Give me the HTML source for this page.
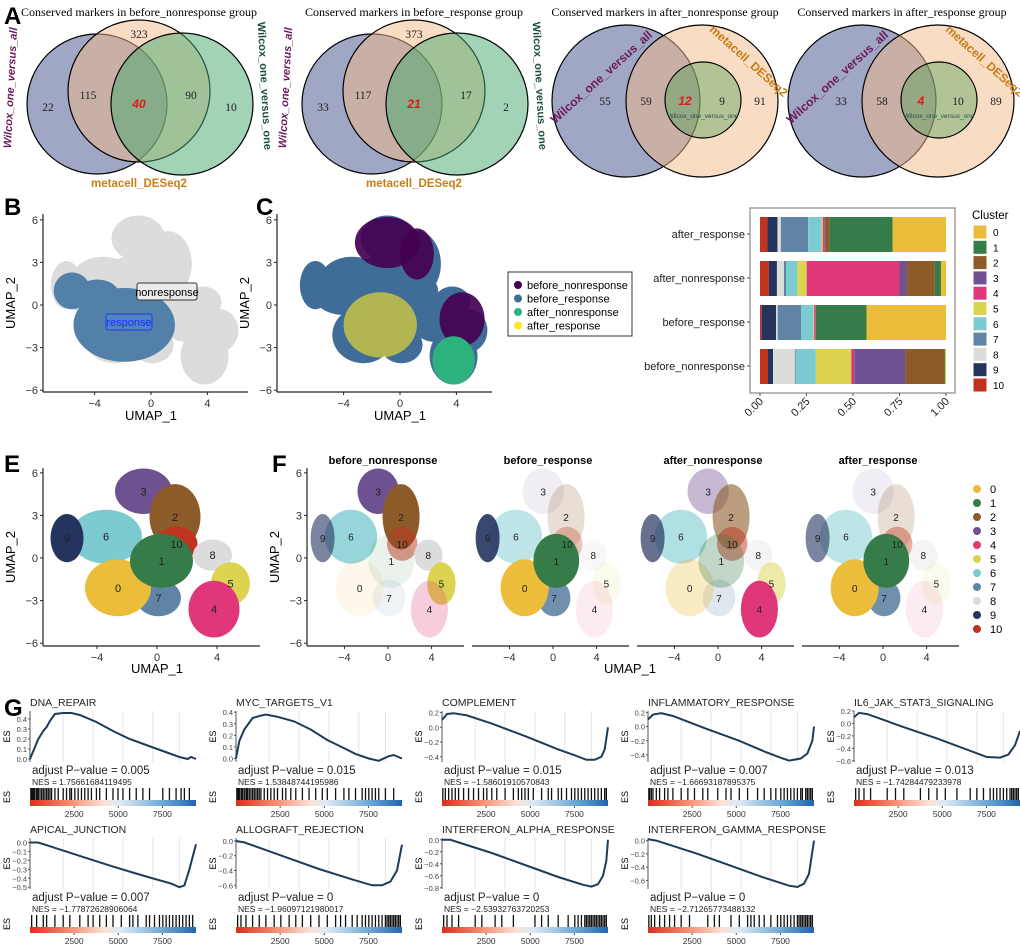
<!DOCTYPE html>
<html><head><meta charset="utf-8">
<style>
html,body{margin:0;padding:0;background:#fff;}
svg{display:block;font-family:"Liberation Sans",sans-serif;}
.serif{font-family:"Liberation Serif",serif;}
</style></head>
<body>
<svg id="fig" width="1020" height="946" viewBox="0 0 1020 946" xmlns="http://www.w3.org/2000/svg">
<defs>
<linearGradient id="rankGrad" x1="0" x2="1" y1="0" y2="0">
<stop offset="0" stop-color="#d7301f"/><stop offset="0.22" stop-color="#f4866a"/><stop offset="0.45" stop-color="#fbe3d6"/><stop offset="0.55" stop-color="#dbe9f4"/><stop offset="0.8" stop-color="#6fa8d4"/><stop offset="1" stop-color="#2166ac"/>
</linearGradient>
</defs>
</svg>
<script>
// ---------- Panel A data ----------
const vennTitles=["Conserved markers in before_nonresponse group","Conserved markers in before_response group","Conserved markers in after_nonresponse group","Conserved markers in after_response group"];
const venn1Counts=[22,115,40,90,10,323];
const venn2Counts=[33,117,21,17,2,373];
const venn3Counts=[55,59,12,9,91];
const venn4Counts=[33,58,4,10,89];
// ---------- Panel D data ----------
const barGroups=["after_response","after_nonresponse","before_response","before_nonresponse"];
const clusterNames=["0","1","2","3","4","5","6","7","8","9","10"];
const propAfterResponse=[0.287,0.341,0.02,0.004,0.011,0.007,0.072,0.147,0.018,0.054,0.04];
const propAfterNonresponse=[0.027,0.034,0.149,0.04,0.499,0.05,0.061,0.011,0.038,0.043,0.048];
const propBeforeResponse=[0.427,0.273,0.002,0.0,0.007,0.004,0.065,0.127,0.009,0.077,0.009];
const propBeforeNonresponse=[0.004,0.005,0.208,0.276,0.016,0.19,0.108,0.005,0.117,0.027,0.043];
const barTicks=[0,0.25,0.5,0.75,1.0];
const barTickLabels=["0.00","0.25","0.50","0.75","1.00"];
// ---------- UMAP cluster data (UMAP units) ----------
const clusterX=[-2.6,0.3,1.2,-0.9,3.8,4.9,-3.4,0.1,3.7,-6.0,1.3];
const clusterY=[-2.1,-0.2,2.9,4.7,-3.6,-1.8,1.5,-2.8,0.2,1.4,1.0];
const clusterRX=[2.2,2.1,1.7,1.9,1.7,1.3,2.4,1.5,1.3,1.1,1.4];
const clusterRY=[2.0,1.9,2.3,1.6,2.0,1.5,1.9,1.3,1.1,1.7,1.2];
const fillerX=[-1.0,-4.0,2.5];
const fillerY=[0.5,1.0,-1.0];
const fillerRX=[3.3,2.3,1.8];
const fillerRY=[3.0,1.7,1.6];
const responseX=[-1.9,-5.6,-3.8];
const responseY=[-1.4,1.0,0.6];
const responseRX=[3.6,1.3,1.6];
const responseRY=[2.6,1.3,1.2];
const nonrespPurpleX=[-0.9,1.2,4.4];
const nonrespPurpleY=[4.4,3.6,-1.0];
const nonrespPurpleRX=[2.3,1.2,1.6];
const nonrespPurpleRY=[1.8,1.8,1.9];
const afterNonX=[3.8]; const afterNonY=[-3.9]; const afterNonRX=[1.5]; const afterNonRY=[1.7];
const afterRespX=[-1.4]; const afterRespY=[-1.4]; const afterRespRX=[2.6]; const afterRespRY=[2.3];
const facetNames=["before_nonresponse","before_response","after_nonresponse","after_response"];
const densBeforeNon=[0.1,0.1,1,1,0.25,1,0.8,0.1,1,0.6,0.5];
const densBeforeResp=[1,1,0.2,0.1,0.1,0.1,0.5,0.9,0.2,0.9,0.3];
const densAfterNon=[0.3,0.3,0.6,0.4,1,0.5,0.6,0.2,0.3,0.7,0.5];
const densAfterResp=[1,1,0.2,0.1,0.1,0.1,0.5,0.9,0.3,0.6,0.4];
const umapXTicks=[-4,0,4];
const umapYTicks=[6,3,0,-3,-6];
// ---------- Panel G data ----------
const gseaNames=["DNA_REPAIR","MYC_TARGETS_V1","COMPLEMENT","INFLAMMATORY_RESPONSE","IL6_JAK_STAT3_SIGNALING","APICAL_JUNCTION","ALLOGRAFT_REJECTION","INTERFERON_ALPHA_RESPONSE","INTERFERON_GAMMA_RESPONSE"];
const gseaP=["0.005","0.015","0.015","0.007","0.013","0.007","0","0","0"];
const gseaNES=["1.75661684119495","1.53848744195986","-1.58601910570843","-1.66693187895375","-1.74284479233978","-1.77872628906064","-1.96097121980017","-2.53932763720253","-2.71265773488132"];
const gseaYMin=[-0.03,-0.03,-0.47,-0.5,-0.62,-0.52,-0.65,-0.82,-0.73];
const gseaYMax=[0.48,0.41,0.22,0.22,0.2,0.05,0.04,0.03,0.04];
const gseaTicks=[[0,0.1,0.2,0.3,0.4],[0,0.1,0.2,0.3,0.4],[0.2,0,-0.2,-0.4],[0.2,0,-0.2,-0.4],[0.2,0,-0.2,-0.4,-0.6],[0,-0.1,-0.2,-0.3,-0.4,-0.5],[0,-0.2,-0.4,-0.6],[0,-0.2,-0.4,-0.6,-0.8],[0,-0.2,-0.4,-0.6]];
const curveDNA=[[0,0],[0.02,0.08],[0.05,0.2],[0.08,0.28],[0.1,0.32],[0.12,0.38],[0.15,0.45],[0.2,0.46],[0.25,0.46],[0.3,0.44],[0.4,0.37],[0.5,0.28],[0.6,0.2],[0.7,0.14],[0.8,0.08],[0.9,0.02],[0.95,0.0],[0.97,0.02],[1,0]];
const curveMYC=[[0,0],[0.02,0.15],[0.05,0.25],[0.1,0.35],[0.15,0.37],[0.18,0.38],[0.25,0.36],[0.35,0.32],[0.45,0.25],[0.55,0.16],[0.65,0.09],[0.72,0.04],[0.8,0.0],[0.86,-0.02],[0.92,0.02],[0.95,0.03],[1,0]];
const curveCOMP=[[0,0.1],[0.03,0.18],[0.07,0.19],[0.15,0.16],[0.3,0.05],[0.5,-0.12],[0.7,-0.3],[0.8,-0.38],[0.87,-0.44],[0.92,-0.44],[0.96,-0.4],[0.98,-0.3],[1,0.0]];
const curveINF=[[0,0.1],[0.03,0.17],[0.08,0.19],[0.15,0.15],[0.35,-0.03],[0.55,-0.2],[0.7,-0.35],[0.8,-0.44],[0.85,-0.48],[0.92,-0.45],[0.96,-0.38],[0.99,-0.2],[1,0]];
const curveIL6=[[0,0.1],[0.03,0.17],[0.08,0.15],[0.3,-0.06],[0.5,-0.24],[0.7,-0.44],[0.8,-0.54],[0.88,-0.55],[0.93,-0.5],[0.97,-0.35],[1,-0.12]];
const curveAPI=[[0,0],[0.05,0.0],[0.1,-0.03],[0.3,-0.15],[0.5,-0.27],[0.7,-0.38],[0.85,-0.46],[0.9,-0.5],[0.93,-0.48],[0.96,-0.3],[1,-0.02]];
const curveALLO=[[0,0],[0.05,-0.02],[0.3,-0.22],[0.5,-0.38],[0.7,-0.52],[0.82,-0.6],[0.88,-0.6],[0.93,-0.55],[0.97,-0.4],[1,-0.05]];
const curveIFNA=[[0,0.0],[0.05,0.0],[0.3,-0.22],[0.5,-0.42],[0.7,-0.62],[0.85,-0.75],[0.9,-0.78],[0.94,-0.74],[0.97,-0.6],[0.99,-0.35],[1,0]];
const curveIFNG=[[0,0.02],[0.05,0.0],[0.3,-0.2],[0.5,-0.38],[0.7,-0.56],[0.85,-0.68],[0.9,-0.7],[0.94,-0.65],[0.97,-0.5],[1,0]];
const hitsDNA=[0.005,0.01,0.015,0.02,0.025,0.03,0.04,0.045,0.05,0.06,0.07,0.08,0.09,0.1,0.11,0.12,0.13,0.15,0.17,0.2,0.22,0.24,0.25,0.27,0.29,0.31,0.33,0.35,0.37,0.4,0.42,0.46,0.5,0.53,0.56,0.6,0.64,0.68,0.72,0.8,0.84,0.88,0.91,0.93,0.96];
const hitsMYC=[0.005,0.01,0.015,0.02,0.03,0.035,0.04,0.05,0.06,0.065,0.07,0.08,0.09,0.1,0.11,0.12,0.13,0.14,0.15,0.17,0.19,0.21,0.23,0.25,0.28,0.3,0.33,0.36,0.4,0.44,0.48,0.52,0.55,0.6,0.65,0.68,0.72,0.76,0.78,0.8,0.82,0.84,0.86,0.9,0.95];
const hitsCOMP=[0.005,0.02,0.04,0.06,0.08,0.1,0.13,0.16,0.19,0.22,0.25,0.27,0.3,0.33,0.38,0.43,0.46,0.48,0.5,0.52,0.55,0.6,0.64,0.66,0.7,0.72,0.75,0.78,0.8,0.82,0.84,0.86,0.88,0.9,0.92,0.94,0.96,0.98,0.99];
const hitsINF=[0.005,0.01,0.02,0.03,0.05,0.07,0.1,0.12,0.15,0.2,0.24,0.28,0.33,0.36,0.42,0.47,0.5,0.55,0.6,0.66,0.7,0.74,0.77,0.8,0.82,0.84,0.86,0.88,0.9,0.92,0.93,0.95,0.96,0.97,0.98,0.99];
const hitsIL6=[0.01,0.03,0.06,0.1,0.2,0.25,0.3,0.4,0.45,0.5,0.55,0.62,0.7,0.74,0.78,0.82,0.84,0.86,0.88,0.9,0.92,0.94,0.95,0.96,0.97,0.98,0.99];
const hitsAPI=[0.01,0.04,0.08,0.1,0.15,0.2,0.24,0.3,0.35,0.38,0.42,0.46,0.5,0.55,0.6,0.62,0.65,0.7,0.72,0.75,0.78,0.8,0.82,0.84,0.86,0.88,0.9,0.92,0.94,0.96,0.98];
const hitsALLO=[0.01,0.03,0.06,0.1,0.14,0.18,0.23,0.27,0.32,0.36,0.4,0.45,0.5,0.55,0.6,0.63,0.66,0.7,0.73,0.76,0.78,0.8,0.82,0.84,0.86,0.88,0.9,0.91,0.92,0.93,0.94,0.95,0.96,0.97,0.98,0.99];
const hitsIFNA=[0.01,0.03,0.06,0.1,0.2,0.24,0.32,0.36,0.43,0.56,0.6,0.64,0.7,0.76,0.8,0.82,0.84,0.86,0.87,0.88,0.89,0.9,0.91,0.92,0.93,0.94,0.95,0.96,0.97,0.98,0.99];
const hitsIFNG=[0.005,0.02,0.04,0.07,0.1,0.13,0.16,0.2,0.25,0.36,0.4,0.43,0.5,0.55,0.6,0.62,0.64,0.67,0.7,0.74,0.78,0.8,0.82,0.84,0.86,0.88,0.9,0.91,0.92,0.93,0.94,0.95,0.96,0.97,0.98,0.99];
const gseaXTicks=[2500,5000,7500];
const gseaMaxRank=9400;

// ---------- helpers ----------
const NS="http://www.w3.org/2000/svg";
const svg=document.getElementById('fig');
const clusterColors=["#ebbd3a","#367c49","#8d5b2a","#6d5190","#e0367a","#dcd450","#7ccbd0","#5f84a5","#dcdcdc","#25345f","#c1331f"];
function mk(tag,attrs,parent){const e=document.createElementNS(NS,tag);for(const k in attrs)e.setAttribute(k,attrs[k]);(parent||svg).appendChild(e);return e;}
function txt(x,y,s,attrs,parent){const t=mk('text',Object.assign({x:x,y:y},attrs||{}),parent);t.textContent=s;return t;}
function grp(parent){return mk('g',{},parent);}

[["A",4,24],["B",4,215],["C",256,215],["D",752,228],["E",4,472],["F",272,472],["G",4,716]].forEach(p=>{
  const t=txt(p[1],p[2],p[0],{'font-size':24,'font-weight':'bold'});
  
  
});

// ---------- Panel A ----------
function circle(g,cx,cy,r,fill){return mk('ellipse',{cx:cx,cy:cy,rx:r,ry:r,fill:fill,'fill-opacity':0.5,stroke:'#000','stroke-width':1.2},g);}
function numText(g,x,y,v,red){return txt(x,y,String(v),{'text-anchor':'middle','font-size':red?12:11.5,class:red?'':'serif',fill:red?'#e8141c':'#222','font-weight':red?'bold':'normal','font-style':red?'italic':'normal'},g);}
function venn3(off,counts,title,idx){
  const g=grp();
  const t=txt(139+off,16,title,{'text-anchor':'middle','font-size':12,class:'serif'},g);
  
  const a=circle(g,97+off,104,70,'#414f89');
  const b=circle(g,139+off,91,71,'#f1b987');
  const c=circle(g,182+off,104,71,'#45a76d');
  const pos=[[48,111],[88,99],[139,108],[191,99],[231,111],[139,38]];
  counts.forEach((v,i)=>{const n=numText(g,pos[i][0]+off,pos[i][1],v,i===2);});
  const l1=txt(0,0,'Wilcox_one_versus_all',{'font-size':11,'font-weight':'bold','font-style':'italic',fill:'#6b1b5c','text-anchor':'middle',transform:`translate(${14+off},88) rotate(-87)`},g);
  
  const l2=txt(0,0,'Wilcox_one_versus_one',{'font-size':11,'font-weight':'bold',fill:'#1f4f46','text-anchor':'middle',transform:`translate(${261+off},86) rotate(87)`},g);
  
  const l3=txt(139+off,187,'metacell_DESeq2',{'font-size':11.5,'font-weight':'bold',fill:'#c87e16','text-anchor':'middle'},g);
  
}
function venn2(bx,ox,counts,title,idx,tx){
  const g=grp();
  const t=txt(tx,16,title,{'text-anchor':'middle','font-size':12,class:'serif'},g);
  
  const a=mk('ellipse',{cx:bx,cy:101,rx:74,ry:76,fill:'#414f89','fill-opacity':0.5,stroke:'#000','stroke-width':1.2},g);
  const b=mk('ellipse',{cx:ox,cy:101,rx:76,ry:76,fill:'#f1b987','fill-opacity':0.5,stroke:'#000','stroke-width':1.2},g);
  const c=mk('ellipse',{cx:ox+1,cy:100,rx:38,ry:38,fill:'#3f9a4a','fill-opacity':0.38,stroke:'#000','stroke-width':1.2},g);
  const xs=[bx-21,bx+20,ox-17,ox+20,ox+58];
  counts.forEach((v,i)=>{const n=numText(g,xs[i],105,v,i===2);});
  const s=txt(ox+1,118,'Wilcox_one_versus_one',{'font-size':6.5,fill:'#1f4f46','text-anchor':'middle'},g);
  const l1=txt(0,0,'Wilcox_one_versus_all',{'font-size':12,'font-weight':'bold',fill:'#6b1b5c','text-anchor':'middle',transform:`translate(${bx-22},80) rotate(-42)`},g);
  
  const l3=txt(0,0,'metacell_DESeq2',{'font-size':12,'font-weight':'bold',fill:'#c87e16','text-anchor':'middle',transform:`translate(${ox+44},64) rotate(42)`},g);
  
}
venn3(0,venn1Counts,vennTitles[0],0);
venn3(275,venn2Counts,vennTitles[1],1);
venn2(626,702,venn3Counts,vennTitles[2],2,665);
venn2(862,938,venn4Counts,vennTitles[3],3,902);

// ---------- UMAP helpers ----------
function umapAxes(g,x0,y0,sx,sy,xl,xr,yt,yb,showY,showYTitle){
  const xa=mk('line',{x1:xl,x2:xr,y1:yb,y2:yb,stroke:'#222','stroke-width':1.2},g);
  umapXTicks.forEach(v=>{const px=x0+v*sx;mk('line',{x1:px,x2:px,y1:yb,y2:yb+3,stroke:'#222'},g);
    const t=txt(px,yb+15,v<0?'\u2212'+Math.abs(v):String(v),{'text-anchor':'middle','font-size':11,fill:'#333'},g);});
  if(showY){
    const ya=mk('line',{x1:xl,x2:xl,y1:yt,y2:yb,stroke:'#222','stroke-width':1.2},g);
    umapYTicks.forEach(v=>{const py=y0-v*sy;mk('line',{x1:xl-3,x2:xl,y1:py,y2:py,stroke:'#222'},g);
      const t=txt(xl-5,py+4,v<0?'\u2212'+Math.abs(v):String(v),{'text-anchor':'end','font-size':11,fill:'#333'},g);});
  }
  if(showYTitle){const t=txt(0,0,'UMAP_2',{'font-size':13,'text-anchor':'middle',transform:`translate(${xl-28},${(yt+yb)/2}) rotate(-90)`},g);}
}
function ell(g,x0,y0,sx,sy,cx,cy,rx,ry,fill,op){return mk('ellipse',{cx:x0+cx*sx,cy:y0-cy*sy,rx:rx*sx,ry:ry*sy,fill:fill,'fill-opacity':op},g);}
const drawOrder=[6,9,3,2,10,8,7,0,1,5,4];

// Panel B
(function(){
  const g=grp();
  const x0=151,y0=305,sx=14.1,sy=14.2;
  fillerX.forEach((v,i)=>{const e=ell(g,x0,y0,sx,sy,v,fillerY[i],fillerRX[i],fillerRY[i],'#dcdcdc',1);});
  drawOrder.forEach(i=>{const e=ell(g,x0,y0,sx,sy,clusterX[i],clusterY[i],clusterRX[i],clusterRY[i],'#dcdcdc',1);});
  responseX.forEach((v,i)=>{const e=ell(g,x0,y0,sx,sy,v,responseY[i],responseRX[i],responseRY[i],'#5380a8',1);});
  umapAxes(g,x0,y0,sx,sy,43,248,214,392,true,true);
  const r1=mk('rect',{x:137,y:283,width:60,height:17,rx:2,fill:'#ebebeb',stroke:'#333'},g);
  const t1=txt(167,296,'nonresponse',{'text-anchor':'middle','font-size':11},g);
  const r2=mk('rect',{x:106,y:314,width:46,height:16,rx:2,fill:'#4f84c0',stroke:'#1d3fe0'},g);
  const t2=txt(129,326,'response',{'text-anchor':'middle','font-size':11,fill:'#1a2fff'},g);
  const xt=txt(151,420,'UMAP_1',{'text-anchor':'middle','font-size':13},g);
})();

// Panel C
(function(){
  const g=grp();
  const x0=400,y0=305,sx=14.1,sy=14.2;
  fillerX.forEach((v,i)=>{const e=ell(g,x0,y0,sx,sy,v,fillerY[i],fillerRX[i],fillerRY[i],'#3f6d98',1);});
  drawOrder.forEach(i=>{const e=ell(g,x0,y0,sx,sy,clusterX[i],clusterY[i],clusterRX[i],clusterRY[i],'#3f6d98',1);});
  nonrespPurpleX.forEach((v,i)=>{const e=ell(g,x0,y0,sx,sy,v,nonrespPurpleY[i],nonrespPurpleRX[i],nonrespPurpleRY[i],'#440154',0.92);});
  afterNonX.forEach((v,i)=>{const e=ell(g,x0,y0,sx,sy,v,afterNonY[i],afterNonRX[i],afterNonRY[i],'#2db27d',1);});
  afterRespX.forEach((v,i)=>{const e=ell(g,x0,y0,sx,sy,v,afterRespY[i],afterRespRX[i],afterRespRY[i],'#fde725',0.6);});
  umapAxes(g,x0,y0,sx,sy,277,492,214,392,true,true);
  const xt=txt(400,420,'UMAP_1',{'text-anchor':'middle','font-size':13},g);
  const lg=grp(g);
  mk('rect',{x:508,y:272,width:124,height:64,fill:'#fff',stroke:'#333'},lg);
  const cols=['#440154','#3f6d98','#2db27d','#fde725'];
  ['before_nonresponse','before_response','after_nonresponse','after_response'].forEach((n,i)=>{
    const y=285+i*13.5;
    const c=mk('circle',{cx:518,cy:y,r:4,fill:cols[i]},lg);
    const t=txt(527,y+4,n,{'font-size':11},lg);
  });
})();

// Panel D
(function(){
  const g=grp();
  const bx=760,bw=186;const props=[propAfterResponse,propAfterNonresponse,propBeforeResponse,propBeforeNonresponse];
  const box=mk('rect',{x:750,y:208,width:205,height:185,fill:'#fff',stroke:'#888','stroke-width':1.2},g);
  const order=[10,9,8,7,6,5,4,3,2,1,0];
  props.forEach((p,r)=>{
    const y=217+r*44;let acc=0;const tot=p.reduce((a,b)=>a+b,0);
    order.forEach(ci=>{const w=p[ci]/tot*bw;if(w>0){const rr=mk('rect',{x:bx+acc,y:y,width:w,height:35,fill:clusterColors[ci]},g);}acc+=w;});
    const t=txt(745,y+21,barGroups[r],{'text-anchor':'end','font-size':11,fill:'#222'},g);
    mk('line',{x1:747,x2:750,y1:y+17,y2:y+17,stroke:'#555'},g);
  });
  barTicks.forEach((v,i)=>{const px=bx+v*bw;mk('line',{x1:px,x2:px,y1:393,y2:396,stroke:'#555'},g);
    const t=txt(0,0,barTickLabels[i],{'text-anchor':'end','font-size':11,fill:'#222',transform:`translate(${px+4},${402}) rotate(-45)`},g);});
  const lt=txt(972,219,'Cluster',{'font-size':11.5},g);
  clusterNames.forEach((n,i)=>{const y=225+i*15.3;
    const k=mk('rect',{x:973,y:y,width:14,height:14,fill:clusterColors[i],stroke:'#fff'},g);
    const t=txt(993,y+11,n,{'font-size':10},g);});
})();

// Panel E
(function(){
  const g=grp();
  const x0=157,y0=558,sx=15,sy=14.2;
  drawOrder.forEach(i=>{const e=ell(g,x0,y0,sx,sy,clusterX[i],clusterY[i],clusterRX[i],clusterRY[i],clusterColors[i],1);});
  clusterNames.forEach((n,i)=>{const t=txt(x0+clusterX[i]*sx,y0-clusterY[i]*sy+4,n,{'text-anchor':'middle','font-size':11,fill:'#222'},g);});
  umapAxes(g,x0,y0,sx,sy,43,260,468,646,true,true);
  const xt=txt(157,673,'UMAP_1',{'text-anchor':'middle','font-size':13},g);
})();

// Panel F
(function(){
  const g=grp();
  const dens=[densBeforeNon,densBeforeResp,densAfterNon,densAfterResp];
  const x0s=[388,553,718,883];const sx=10.9,sy=14.2,y0=558;
  facetNames.forEach((f,k)=>{
    const fg=grp(g);
    const x0=x0s[k];
    drawOrder.forEach(i=>{const e=ell(fg,x0,y0,sx,sy,clusterX[i],clusterY[i],clusterRX[i],clusterRY[i],clusterColors[i],dens[k][i]);});
    clusterNames.forEach((n,i)=>{const t=txt(x0+clusterX[i]*sx,y0-clusterY[i]*sy+4,n,{'text-anchor':'middle','font-size':10,fill:'#222'},fg);});
    umapAxes(fg,x0,y0,sx,sy,x0-81,x0+76,468,646,k===0,k===0);
    const t=txt(x0-5,464,f,{'text-anchor':'middle','font-size':11,'font-weight':'bold'},fg);
  });
  const xt=txt(630,673,'UMAP_1',{'text-anchor':'middle','font-size':13},g);
  clusterNames.forEach((n,i)=>{const y=489+i*14;
    const c=mk('circle',{cx:977,cy:y,r:4,fill:clusterColors[i]},g);
    const t=txt(990,y+4,n,{'font-size':11},g);});
})();

// Panel G
(function(){
  const curves=[curveDNA,curveMYC,curveCOMP,curveINF,curveIL6,curveAPI,curveALLO,curveIFNA,curveIFNG];
  const hits=[hitsDNA,hitsMYC,hitsCOMP,hitsINF,hitsIL6,hitsAPI,hitsALLO,hitsIFNA,hitsIFNG];
  gseaNames.forEach((name,k)=>{
    const col=k<5?k:k-5,row=k<5?0:1;
    const x0=30+206*col,w=166,dy=127*row;const top=711+dy,bot=762+dy;
    const g=grp();
    const ys=v=>bot-(v-gseaYMin[k])/(gseaYMax[k]-gseaYMin[k])*(bot-top);
    const xs=f=>x0+f*w;
    [0.2,0.38,0.56,0.74,0.9].forEach(f=>mk('line',{x1:xs(f),x2:xs(f),y1:top,y2:bot,stroke:'#e6e6e6','stroke-width':1},g));
    const t=txt(x0,top-5,name,{'font-size':10.5,fill:'#222'},g);
    mk('line',{x1:x0,x2:x0,y1:top,y2:bot,stroke:'#555'},g);
    gseaTicks[k].forEach(v=>{const py=ys(v);mk('line',{x1:x0-2,x2:x0,y1:py,y2:py,stroke:'#555'},g);
      const tl=txt(x0-3,py+3,(v<0?'\u2212':'')+Math.abs(v).toFixed(1),{'text-anchor':'end','font-size':7.5,fill:'#444'},g);});
    const es=txt(0,0,'ES',{'font-size':9,'text-anchor':'middle',transform:`translate(${x0-20},${(top+bot)/2}) rotate(-90)`},g);
    const d=curves[k].map((p,i)=>(i?'L':'M')+xs(p[0]).toFixed(1)+','+ys(p[1]).toFixed(1)).join('');
    const path=mk('path',{d:d,fill:'none',stroke:'#1f3b5a','stroke-width':2},g);
    const pv=txt(x0+2,774+dy,'adjust P\u2212value = '+gseaP[k],{'font-size':11.5,fill:'#222'},g);
    const ne=txt(x0+2,785+dy,'NES = '+gseaNES[k].replace('-','\u2212'),{'font-size':8.5,fill:'#222'},g);
    const bc=grp(g);
    hits[k].forEach(f=>mk('line',{x1:xs(f),x2:xs(f),y1:788+dy,y2:800+dy,stroke:'#111','stroke-width':1.3},bc));
    const rb=mk('rect',{x:x0,y:800+dy,width:w,height:6,fill:'url(#rankGrad)'},g);
    const es2=txt(0,0,'ES',{'font-size':9,'text-anchor':'middle',transform:`translate(${x0-20},${797+dy}) rotate(-90)`},g);
    gseaXTicks.forEach(v=>{const px=x0+v/gseaMaxRank*w;mk('line',{x1:px,x2:px,y1:806+dy,y2:808+dy,stroke:'#555'},g);
      const tl=txt(px,817+dy,String(v),{'text-anchor':'middle','font-size':8.5,fill:'#333'},g);});
  });
})();
</script>
</body></html>
